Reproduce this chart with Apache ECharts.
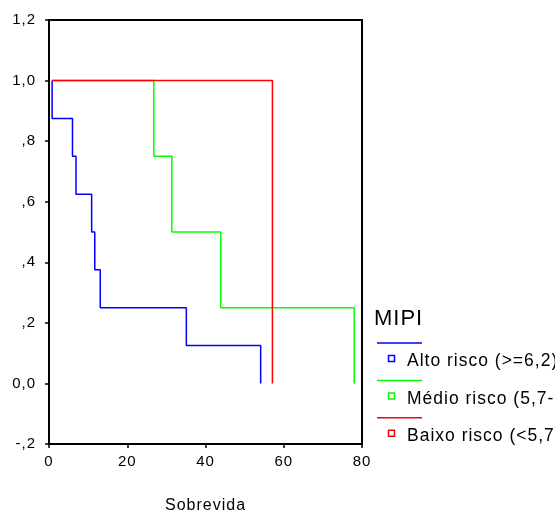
<!DOCTYPE html>
<html>
<head>
<meta charset="utf-8">
<script src="https://cdn.jsdelivr.net/npm/echarts@6/dist/echarts.min.js"></script>
<style>
  html, body { margin: 0; padding: 0; background: #fff; }
  #graph { width: 555px; height: 513px; }
</style>
</head>
<body>
<div id="graph"></div>
<script>
var dom = document.getElementById("graph");
var chart = echarts.init(dom);

// survival curves (Kaplan-Meier): event times and survival after each step
var groupNames = ['Alto risco (>=6,2)', 'Médio risco (5,7-6,2)', 'Baixo risco (<5,7)'];
var groupColors = ['#0000ff', '#00ff00', '#ff0000'];

var altoTimes = [0.8, 0.8, 6.0, 6.9, 10.9, 11.7, 13.1, 35.1, 54.1];
var altoSurv  = [1.0, 0.875, 0.75, 0.625, 0.5, 0.375, 0.25, 0.125, 0.0];

var medioTimes = [0.8, 26.8, 31.4, 43.9, 78.0];
var medioSurv  = [1.0, 0.75, 0.5, 0.25, 0.0];

var baixoTimes = [0.8, 57.1];
var baixoSurv  = [1.0, 0.0];

var yTickLabels = ['-,2', '0,0', ',2', ',4', ',6', ',8', '1,0', '1,2'];
var xTickLabels = ['0', '20', '40', '60', '80'];

var font = 'Liberation Sans, Arial, sans-serif';

function pairs(t, s) {
    return t.map(function (x, i) { return [x, s[i]]; });
}

var curves = [pairs(altoTimes, altoSurv), pairs(medioTimes, medioSurv), pairs(baixoTimes, baixoSurv)];

// legend drawn by hand, SPSS style: line, then marker + label underneath
var legendItems = [{
    type: 'text', left: 374, top: 308,
    style: { text: 'MIPI', font: '22px ' + font, fill: '#000' }
}];
groupNames.forEach(function (name, i) {
    var y0 = 343 + 37.4 * i;
    legendItems.push({
        type: 'line', shape: { x1: 377, y1: y0, x2: 422, y2: y0 },
        style: { stroke: groupColors[i], lineWidth: 1.5 }
    });
    legendItems.push({
        type: 'rect', shape: { x: 388.5, y: y0 + 12.5, width: 6, height: 6 },
        style: { stroke: groupColors[i], fill: '#fff', lineWidth: 1.5 }
    });
    legendItems.push({
        type: 'text', x: 407, y: y0 + 18.5,
        style: { text: name, font: '17.5px ' + font, fill: '#000', verticalAlign: 'middle' }
    });
});

chart.setOption({
    animation: false,
    grid: {
        left: 49, top: 20, right: 193, bottom: 69,
        outerBoundsMode: 'none',
        show: true, borderColor: '#000', borderWidth: 2, backgroundColor: '#fff'
    },
    xAxis: {
        type: 'value', min: 0, max: 80, interval: 20,
        name: 'Sobrevida', nameLocation: 'middle', nameGap: 54,
        nameTextStyle: { fontFamily: font, fontSize: 16, color: '#000' },
        axisLine: { show: true, onZero: false, lineStyle: { color: '#000', width: 2 } },
        axisTick: { show: true, length: 4, lineStyle: { color: '#000', width: 1.5 } },
        axisLabel: {
            margin: 10, fontFamily: font, fontSize: 15, color: '#000',
            formatter: function (v) { return xTickLabels[Math.round(v / 20)]; }
        },
        splitLine: { show: false }
    },
    yAxis: {
        type: 'value', min: -0.2, max: 1.2, interval: 0.2,
        axisLine: { show: true, lineStyle: { color: '#000', width: 2 } },
        axisTick: { show: true, length: 4, lineStyle: { color: '#000', width: 1.5 } },
        axisLabel: {
            margin: 13, fontFamily: font, fontSize: 15, color: '#000',
            formatter: function (v) { return yTickLabels[Math.round((v + 0.2) / 0.2)]; }
        },
        splitLine: { show: false }
    },
    series: curves.map(function (data, i) {
        return {
            name: groupNames[i],
            type: 'line',
            step: 'end',
            data: data,
            showSymbol: false,
            lineStyle: { color: groupColors[i], width: 1.5 },
            itemStyle: { color: groupColors[i] }
        };
    }),
    graphic: legendItems
});

// SPSS spreads its letters a little; canvas can do that too
var zr = chart.getZr();
zr.refreshImmediately();
var canvas = dom.querySelector('canvas');
if (canvas) {
    var ctx = canvas.getContext('2d');
    if ('letterSpacing' in ctx) {
        ctx.letterSpacing = '1px';
        zr.painter.refresh(true);
    }
}
</script>
</body>
</html>
